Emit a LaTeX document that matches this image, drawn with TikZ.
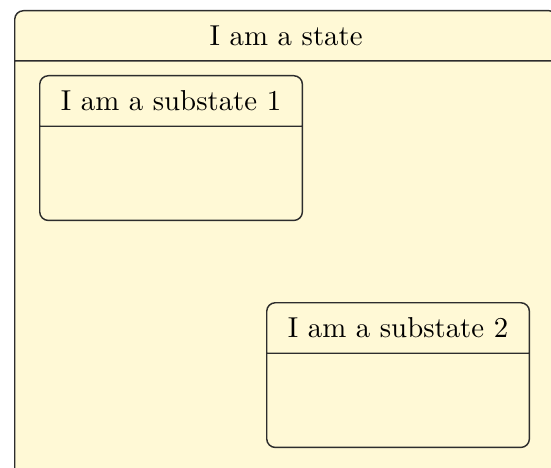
\documentclass[tikz,border=0pt]{standalone}
\usetikzlibrary{shapes.multipart}
\definecolor{stateFill}{HTML}{FFF9D6}
\definecolor{stateLine}{HTML}{2D2D2D}

\begin{document}
\begin{tikzpicture}[
    x=0.3472pt, y=-0.3472pt,
    umlstate/.style={rectangle split, rectangle split parts=2,
                     rounded corners=3pt, draw=stateLine, fill=stateFill,
                     line width=0.5pt, anchor=north west,
                     inner xsep=0pt, inner ysep=5pt, minimum width=#1,
                     rectangle split empty part depth=0pt},
  ]
  \useasboundingbox (0,0) rectangle (551,468);
  \clip (0,0) rectangle (551,468);
  % outer state, cut off at the right and bottom
  \node[umlstate=188.5pt, rectangle split empty part height=134.3pt]
    (main) at (14,10) {I am a state\nodepart{two}};
  % the two substates
  \node[umlstate=91.2pt, rectangle split empty part height=22.2pt]
    (sub1) at (39,75) {I am a substate 1\nodepart{two}};
  \node[umlstate=91.2pt, rectangle split empty part height=22.2pt]
    (sub2) at (266,302) {I am a substate 2\nodepart{two}};
\end{tikzpicture}
\end{document}
